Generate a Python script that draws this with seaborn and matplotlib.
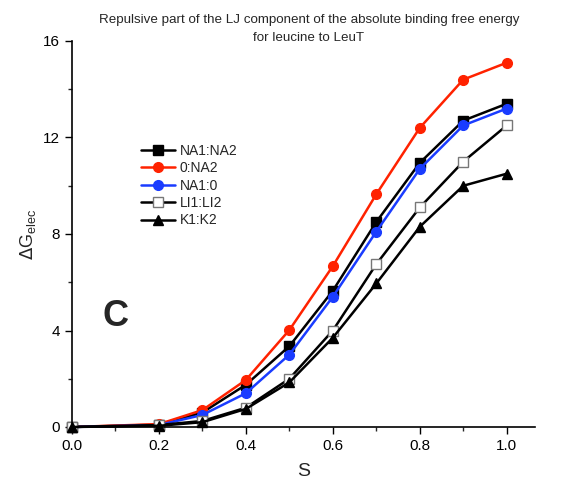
import matplotlib
matplotlib.use("Agg")
import matplotlib.pyplot as plt
import seaborn as sns
import pandas as pd
from matplotlib.ticker import MultipleLocator

sns.set_theme(style="ticks")
plt.rcParams['font.family'] = ['Liberation Sans', 'DejaVu Sans']

s = [0.0, 0.2, 0.3, 0.4, 0.5, 0.6, 0.7, 0.8, 0.9, 1.0]
na1_na2 = [0.0, 0.10, 0.60, 1.75, 3.35, 5.65, 8.50, 10.95, 12.70, 13.40]
zero_na2 = [0.0, 0.12, 0.70, 1.95, 4.02, 6.67, 9.65, 12.40, 14.40, 15.10]
na1_zero = [0.0, 0.08, 0.50, 1.40, 3.00, 5.40, 8.10, 10.70, 12.50, 13.20]
li1_li2 = [0.0, 0.08, 0.25, 0.80, 2.00, 4.00, 6.75, 9.10, 11.00, 12.50]
k1_k2 = [0.0, 0.05, 0.20, 0.75, 1.85, 3.70, 5.95, 8.30, 10.00, 10.50]

series = [
    ("NA1:NA2", na1_na2, "black", "s", "black"),
    ("0:NA2", zero_na2, "#ff2200", "o", "#ff2200"),
    ("NA1:0", na1_zero, "#1a3cff", "o", "#1a3cff"),
    ("LI1:LI2", li1_li2, "black", "s", "white"),
    ("K1:K2", k1_k2, "black", "^", "black"),
]

fig = plt.figure(figsize=(5.87, 4.82), dpi=100)
ax = fig.add_axes([72/587, 1-427/482, (535-72)/587, (427-41)/482])

for name, vals, col, mk, fc in series:
    df = pd.DataFrame({"S": s, "G": vals})
    sns.lineplot(data=df, x="S", y="G", ax=ax, color=col, marker=mk,
                 markerfacecolor=fc, markeredgecolor=("#777777" if fc == "white" else col),
                 markersize=7, linewidth=1.8, label=name, clip_on=False,
                 markeredgewidth=1.0)

ax.set_xlim(0, 1.065)
ax.set_ylim(0, 16)
ax.xaxis.set_major_locator(MultipleLocator(0.2))
ax.xaxis.set_minor_locator(MultipleLocator(0.1))
ax.yaxis.set_major_locator(MultipleLocator(4))
ax.yaxis.set_minor_locator(MultipleLocator(2))
ax.set_xticklabels([f"{v:.1f}" for v in ax.get_xticks()])
ax.tick_params(axis='both', which='major', length=5, width=1, labelsize=11, colors='black', direction='out')
ax.tick_params(axis='both', which='minor', length=3, width=1, direction='out')
for sp in ['top', 'right']:
    ax.spines[sp].set_visible(False)
for sp in ['left', 'bottom']:
    ax.spines[sp].set_color('black')
    ax.spines[sp].set_linewidth(1.2)

ax.set_xlabel("S", fontsize=14, labelpad=7)
ax.set_ylabel(r"$\Delta$G$_{\mathregular{elec}}$", fontsize=13, labelpad=4)

fig.text(309/587, 1-20/482, "Repulsive part of the LJ component of the absolute binding free energy",
         ha='center', va='center', fontsize=9.6)
fig.text(309/587, 1-38/482, "for leucine to LeuT", ha='center', va='center', fontsize=9.6)

ax.text(0.1, 4.6, "C", fontsize=26, fontweight='bold', ha='center', va='center')

leg = ax.legend(loc='upper left', bbox_to_anchor=(135/587, 1-138/482), bbox_transform=fig.transFigure,
                frameon=False, fontsize=10, handlelength=2.5, handletextpad=0.3, labelspacing=0.25,
                borderaxespad=0)

fig.savefig("out.png", dpi=100)
